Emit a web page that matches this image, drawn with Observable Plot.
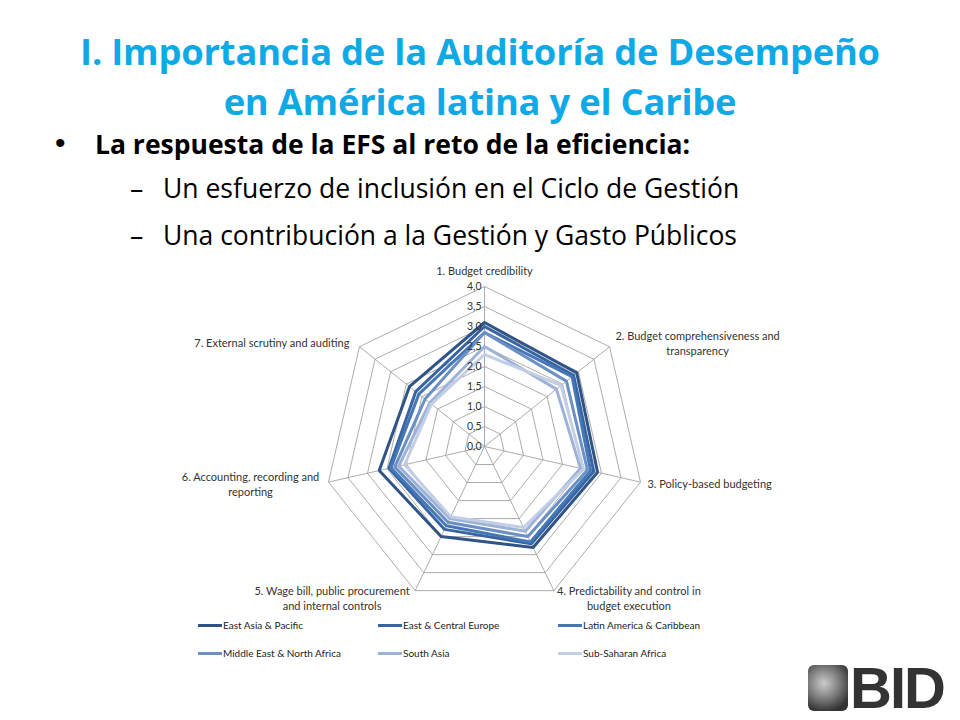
<!DOCTYPE html>
<html><head><meta charset="utf-8">
<script src="https://cdn.jsdelivr.net/npm/d3@7"></script>
<script src="https://cdn.jsdelivr.net/npm/@observablehq/plot@0.6"></script>
<style>
body{margin:0;width:960px;height:720px;position:relative;background:#fff;font-family:"Open Sans",Lato,sans-serif;overflow:hidden}
#title{position:absolute;left:0;top:26px;width:960px;text-align:center;color:#0fa9e6;font-weight:bold;font-size:36.3px;line-height:50px;letter-spacing:-0.2px}
.b{position:absolute;font-size:26.5px;color:#000;white-space:nowrap;line-height:34px}
#chart{position:absolute;left:0;top:260px}
#legend{position:absolute;left:0;top:0;width:960px;height:720px;pointer-events:none}
.li{position:absolute;font-family:Lato,sans-serif;font-size:10px;color:#222;display:flex;align-items:center;white-space:nowrap}
.sw{display:inline-block;width:24px;height:3px;margin-right:1px}
#logo{position:absolute;left:808px;top:664px;display:flex;align-items:center}
#globe{width:40px;height:46px;border-radius:6px;background:radial-gradient(circle at 40% 40%,#ccc 0,#777 45%,#333 78%);margin-right:2px}
#bid{font-family:"Liberation Sans Narrow","Liberation Sans",sans-serif;font-weight:bold;font-size:58px;color:#333;letter-spacing:-2px;line-height:48px}
</style></head><body>
<div id="title">I. Importancia de la Auditoría de Desempeño<br>en América latina y el Caribe</div>
<div class="b" style="left:55px;top:126px;font-family:'Liberation Sans',sans-serif;font-size:30px">•</div>
<div class="b" style="left:95px;top:127px;font-weight:bold">La respuesta de la EFS al reto de la eficiencia:</div>
<div class="b" style="left:130px;top:171px">–</div>
<div class="b" style="left:163px;top:171px">Un esfuerzo de inclusión en el Ciclo de Gestión</div>
<div class="b" style="left:130px;top:218px">–</div>
<div class="b" style="left:163px;top:218px">Una contribución a la Gestión y Gasto Públicos</div>
<div id="chart"></div>
<div id="legend"></div>
<div id="logo"><div id="globe"></div><div id="bid">BID</div></div>
<script>
// ---- data ----
const axisLabels = [
  "1. Budget credibility",
  "2. Budget comprehensiveness and\ntransparency",
  "3. Policy-based budgeting",
  "4. Predictability and control in\nbudget execution",
  "5. Wage bill, public procurement\nand internal controls",
  "6. Accounting, recording and\nreporting",
  "7. External scrutiny and auditing"
];
const seriesNames = ["East Asia & Pacific","East & Central Europe","Latin America & Caribbean","Middle East & North Africa","South Asia","Sub-Saharan Africa"];
const eastAsiaPacific     = [3.10, 2.95, 2.90, 2.80, 2.50, 2.70, 2.40];
const eastCentralEurope   = [3.00, 2.85, 2.80, 2.70, 2.30, 2.45, 2.20];
const latinAmerica        = [2.85, 2.80, 2.72, 2.65, 2.20, 2.40, 2.10];
const middleEastNAfrica   = [2.85, 2.62, 2.64, 2.50, 2.10, 2.30, 1.90];
const southAsia           = [2.50, 2.30, 2.46, 2.35, 2.00, 2.20, 1.75];
const subSaharanAfrica    = [2.30, 2.45, 2.54, 2.25, 1.95, 2.05, 1.70];
const tickValues = [0, 0.5, 1, 1.5, 2, 2.5, 3, 3.5, 4];
const seriesColors = ["#2f5485","#3864a2","#4577b6","#6b90c4","#9db2d6","#c2cee6"];

const allSeries = [eastAsiaPacific, eastCentralEurope, latinAmerica, middleEastNAfrica, southAsia, subSaharanAfrica];
const n = axisLabels.length;
const maxV = 4;
const polar = (v, i) => { const a = 2 * Math.PI * i / n; return {x: v * Math.sin(a), y: v * Math.cos(a)}; };

const rows = [];
allSeries.forEach((vals, s) => {
  for (let k = 0; k <= n; k++) { const i = k % n; rows.push({series: seriesNames[s], ...polar(vals[i], i)}); }
});
const grid = [];
tickValues.filter(t => t > 0).forEach(t => { for (let k = 0; k <= n; k++) grid.push({r: t, ...polar(t, k % n)}); });
const spokes = axisLabels.map((l, i) => { const o = polar(0, i), e = polar(maxV, i); return {x1: o.x, y1: o.y, x2: e.x, y2: e.y}; });
const labelsPos = axisLabels.map((l, i) => ({text: l, ...polar(maxV, i)}));

// label placement styles (offsets from vertex)
const labelStyle = [
  {textAnchor: "middle", dx: 0, dy: -16},
  {textAnchor: "middle", dx: 88, dy: -4},
  {textAnchor: "start", dx: 7, dy: 1},
  {textAnchor: "middle", dx: 75, dy: 7},
  {textAnchor: "middle", dx: -83, dy: 7},
  {textAnchor: "middle", dx: -78, dy: 2},
  {textAnchor: "end", dx: -10, dy: -5}
];

const cx = 484, cy = 186, R = 160;
const plot = Plot.plot({
  width: 960, height: 360, margin: 0,
  x: {domain: [-maxV, maxV], range: [cx - R, cx + R], axis: null},
  y: {domain: [-maxV, maxV], range: [cy + R, cy - R], axis: null},
  color: {domain: seriesNames, range: seriesColors},
  style: {fontFamily: "Lato, 'Open Sans', sans-serif", fontSize: "11px", color: "#333", background: "transparent"},
  marks: [
    Plot.line(grid, {x: "x", y: "y", z: "r", stroke: "#a3a3a3", strokeWidth: 0.9}),
    Plot.link(spokes, {x1: "x1", y1: "y1", x2: "x2", y2: "y2", stroke: "#a3a3a3", strokeWidth: 0.9}),
    Plot.line(rows, {x: "x", y: "y", z: "series", stroke: "series", strokeWidth: 3, strokeLinejoin: "miter"}),
    Plot.text(tickValues, {x: 0, y: d => d, text: d => d.toFixed(1).replace(".", ","), textAnchor: "end", dx: -3, fill: "#333", fontSize: 10.5}),
    ...labelsPos.map((d, i) => Plot.text([d], {x: "x", y: "y", text: "text", lineHeight: 1.35, fill: "#333", ...labelStyle[i]}))
  ]
});
document.getElementById("chart").appendChild(plot);

// legend
const legendCols = [198, 378, 558];
const legendRows = [619, 647];
const lg = document.getElementById("legend");
seriesNames.forEach((name, i) => {
  const el = document.createElement("div");
  el.className = "li";
  el.style.left = legendCols[i % 3] + "px";
  el.style.top = legendRows[Math.floor(i / 3)] + "px";
  el.innerHTML = `<span class="sw" style="background:${seriesColors[i]}"></span>${name}`;
  lg.appendChild(el);
});
</script>
</body></html>
